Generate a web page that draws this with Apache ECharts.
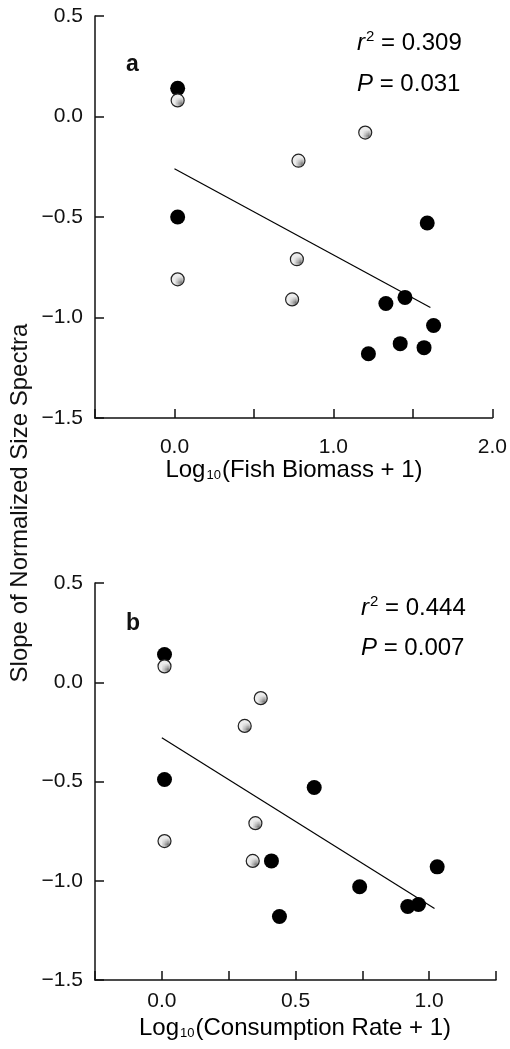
<!DOCTYPE html>
<html>
<head>
<meta charset="utf-8">
<title>Slope of Normalized Size Spectra</title>
<script src="https://cdn.jsdelivr.net/npm/echarts@6/dist/echarts.min.js"></script>
<style>
    html, body { margin: 0; padding: 0; background: #fff; }
    #main { width: 510px; height: 1049px; }
</style>
</head>
<body>
<div id="main"></div>
<script>
    // panel a : fish biomass
    var aBlackX = [0.02, 0.02, 1.59, 1.33, 1.45, 1.63, 1.22, 1.42, 1.57];
    var aBlackY = [0.14, -0.50, -0.53, -0.93, -0.90, -1.04, -1.18, -1.13, -1.15];
    var aGreyX = [0.02, 0.02, 0.78, 1.20, 0.77, 0.74];
    var aGreyY = [0.08, -0.81, -0.22, -0.08, -0.71, -0.91];
    var aFitX = [0.0, 1.61];
    var aFitY = [-0.26, -0.95];

    // panel b : consumption rate
    var bBlackX = [0.01, 0.01, 0.57, 0.41, 0.44, 0.74, 0.92, 0.96, 1.03];
    var bBlackY = [0.14, -0.49, -0.53, -0.90, -1.18, -1.03, -1.13, -1.12, -0.93];
    var bGreyX = [0.01, 0.01, 0.37, 0.31, 0.35, 0.34];
    var bGreyY = [0.08, -0.80, -0.08, -0.22, -0.71, -0.90];
    var bFitX = [0.0, 1.02];
    var bFitY = [-0.28, -1.14];

    function pairs(xs, ys) {
        return xs.map(function (x, i) { return [x, ys[i]]; });
    }

    // stippled fill for the grey dots
    var pat = document.createElement('canvas');
    pat.width = 4; pat.height = 4;
    var pc = pat.getContext('2d');
    pc.fillStyle = '#ececec';
    pc.fillRect(0, 0, 4, 4);
    pc.fillStyle = '#777';
    pc.fillRect(0, 0, 1, 1);
    pc.fillRect(2, 2, 1, 1);

    var FONT = 'Liberation Sans, Arial, Helvetica, sans-serif';
    var ink = '#111';

    function yFmt(v) {
        return v.toFixed(1).replace('-', '\u2212');
    }

    function yAxisOf(idx) {
        return {
            type: 'value', gridIndex: idx, min: -1.5, max: 0.5, interval: 0.5,
            splitLine: { show: false },
            axisLine: { show: true, onZero: false, lineStyle: { color: ink, width: 1.5 } },
            axisTick: { inside: true, length: 9, lineStyle: { color: ink, width: 1.5 } },
            axisLabel: { color: ink, fontSize: 21, fontFamily: FONT, margin: 12, formatter: yFmt }
        };
    }

    function xAxisOf(idx, min, max, step, every, margin) {
        return {
            type: 'value', gridIndex: idx, min: min, max: max, interval: step,
            splitLine: { show: false },
            axisLine: { show: true, onZero: false, lineStyle: { color: ink, width: 1.5 } },
            axisTick: { inside: true, length: 9, lineStyle: { color: ink, width: 1.5 } },
            axisLabel: {
                color: ink, fontSize: 21, fontFamily: FONT, margin: margin, hideOverlap: false,
                showMinLabel: true, showMaxLabel: true,
                formatter: function (v) {
                    var k = v / every;
                    if (v < 0 || Math.abs(k - Math.round(k)) > 1e-6) return '';
                    return v.toFixed(1);
                }
            }
        };
    }

    function panelSeries(idx, bx, by, gx, gy, fx, fy) {
        return [
            {
                type: 'scatter', xAxisIndex: idx, yAxisIndex: idx, symbolSize: 15,
                itemStyle: { color: '#000', opacity: 1 },
                data: pairs(bx, by)
            },
            {
                type: 'scatter', xAxisIndex: idx, yAxisIndex: idx, symbolSize: 13,
                itemStyle: { color: { image: pat, repeat: 'repeat' }, borderColor: '#222', borderWidth: 1.2, opacity: 1 },
                data: pairs(gx, gy)
            },
            {
                type: 'line', xAxisIndex: idx, yAxisIndex: idx, symbol: 'none', z: 1,
                lineStyle: { color: '#000', width: 1.2 },
                data: pairs(fx, fy)
            }
        ];
    }

    var richStat = {
        i: { fontStyle: 'italic', fontSize: 24, fontFamily: FONT, color: ink },
        sup: { fontSize: 15, fontFamily: FONT, color: ink, padding: [0, 0, 12, 1] },
        n: { fontSize: 24, fontFamily: FONT, color: ink }
    };
    var richTitle = {
        n: { fontSize: 24, fontFamily: FONT, color: ink },
        sub: { fontSize: 13, fontFamily: FONT, color: ink, padding: [10, 1, 0, 1] }
    };

    function txt(x, y, text, rich, extra) {
        var s = { text: text, rich: rich, textAlign: 'left', textVerticalAlign: 'middle' };
        for (var k in extra) s[k] = extra[k];
        return { type: 'text', x: x, y: y, style: s };
    }

    var myChart = echarts.init(document.getElementById('main'));

    var option = {
        backgroundColor: '#fff',
        animation: false,
        grid: [
            { left: 95, top: 16, width: 398, height: 402 },
            { left: 95, top: 583, width: 401, height: 397 }
        ],
        xAxis: [
            xAxisOf(0, -0.5, 2.0, 0.5, 1.0, 19),
            xAxisOf(1, -0.25, 1.25, 0.25, 0.5, 11)
        ],
        yAxis: [yAxisOf(0), yAxisOf(1)],
        series: panelSeries(0, aBlackX, aBlackY, aGreyX, aGreyY, aFitX, aFitY)
            .concat(panelSeries(1, bBlackX, bBlackY, bGreyX, bGreyY, bFitX, bFitY)),
        graphic: [
            txt(126, 65, 'a', {}, { fontSize: 23, fontWeight: 'bold', fontFamily: FONT, fill: ink }),
            txt(126, 624, 'b', {}, { fontSize: 23, fontWeight: 'bold', fontFamily: FONT, fill: ink }),
            txt(357, 43, '{i|r}{sup|2}{n| = 0.309}', richStat, {}),
            txt(357, 84, '{i|P}{n| = 0.031}', richStat, {}),
            txt(361, 608, '{i|r}{sup|2}{n| = 0.444}', richStat, {}),
            txt(361, 648, '{i|P}{n| = 0.007}', richStat, {}),
            txt(294, 470, '{n|Log}{sub|10}{n|(Fish Biomass + 1)}', richTitle, { textAlign: 'center' }),
            txt(295, 1028, '{n|Log}{sub|10}{n|(Consumption Rate + 1)}', richTitle, { textAlign: 'center' }),
            {
                type: 'text', x: 20, y: 503, rotation: Math.PI / 2,
                style: {
                    text: 'Slope of Normalized Size Spectra', fontSize: 24, fontFamily: FONT, fill: ink,
                    textAlign: 'center', textVerticalAlign: 'middle'
                }
            }
        ]
    };

    myChart.setOption(option);
</script>
</body>
</html>
